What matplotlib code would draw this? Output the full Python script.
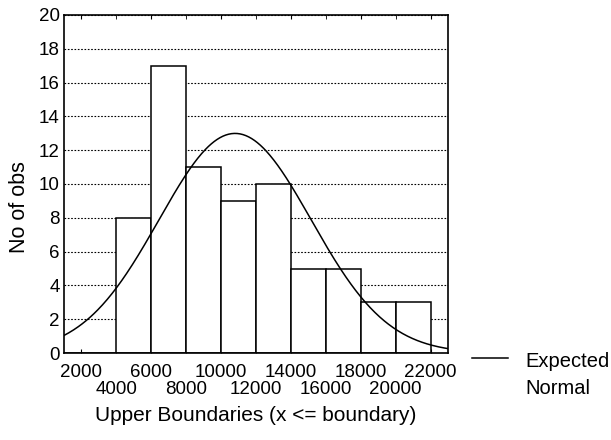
import numpy as np
import matplotlib
matplotlib.use("Agg")
import matplotlib.pyplot as plt
from matplotlib.lines import Line2D

plt.rcParams['font.family'] = ['Liberation Sans', 'DejaVu Sans']

# Data
boundaries = [2000, 4000, 6000, 8000, 10000, 12000, 14000, 16000, 18000, 20000, 22000]
counts = [0, 0, 8, 17, 11, 9, 10, 5, 5, 3, 3]   # count for bin ending at each boundary
tick_labels = ['2000', '4000', '6000', '8000', '10000', '12000', '14000',
               '16000', '18000', '20000', '22000']
bin_width = 2000
n_obs = sum(counts)
normal_mean = 10800
normal_sd = 4360
x_min, x_max = 1000, 23000

fig = plt.figure(figsize=(6.11, 4.40), dpi=100)
ax = fig.add_axes([64/611, 1 - 353/440, (448-64)/611, (353-15)/440])

ax.set_xlim(x_min, x_max)
ax.set_ylim(0, 20)

ax.yaxis.grid(True, linestyle=(0, (1.5, 1.5)), color='black', linewidth=0.8)
ax.set_axisbelow(True)

lefts = [b - bin_width for b in boundaries]
ax.bar(lefts, counts, width=bin_width, align='edge', facecolor='white',
       edgecolor='black', linewidth=1.1, zorder=2)

xs = np.linspace(x_min, x_max, 400)
expected = n_obs * bin_width / (normal_sd * np.sqrt(2 * np.pi)) * \
    np.exp(-0.5 * ((xs - normal_mean) / normal_sd) ** 2)
ax.plot(xs, expected, color='black', linewidth=1.1, zorder=3)

ax.set_yticks(range(0, 21, 2))
ax.tick_params(axis='y', length=0, pad=3, labelsize=13.5)

# staggered x tick labels: even ones on major ticks, odd ones on minor ticks
ax.set_xticks(boundaries[0::2])
ax.set_xticklabels(tick_labels[0::2])
ax.set_xticks(boundaries[1::2], minor=True)
ax.set_xticklabels(tick_labels[1::2], minor=True)
ax.tick_params(axis='x', which='both', direction='in', length=3,
               labelsize=13.5, top=True)
ax.tick_params(axis='x', which='major', pad=8)
ax.tick_params(axis='x', which='minor', pad=20)

for s in ax.spines.values():
    s.set_linewidth(1.2)
    s.set_color('black')

ax.set_xlabel('Upper Boundaries (x <= boundary)', fontsize=15)
ax.xaxis.set_label_coords(0.499, -0.158)
ax.set_ylabel('No of obs', fontsize=15.5)
ax.yaxis.set_label_coords(-0.089, 0.432)

# legend
fig.add_artist(Line2D([472/611, 508/611], [1 - 358/440, 1 - 358/440],
                      color='black', linewidth=1.1))
fig.text(525/611, 1 - 367/440, 'Expected', fontsize=14.5, va='baseline', ha='left')
fig.text(525/611, 1 - 394/440, 'Normal', fontsize=14.5, va='baseline', ha='left')

fig.savefig('out.png', dpi=100)
